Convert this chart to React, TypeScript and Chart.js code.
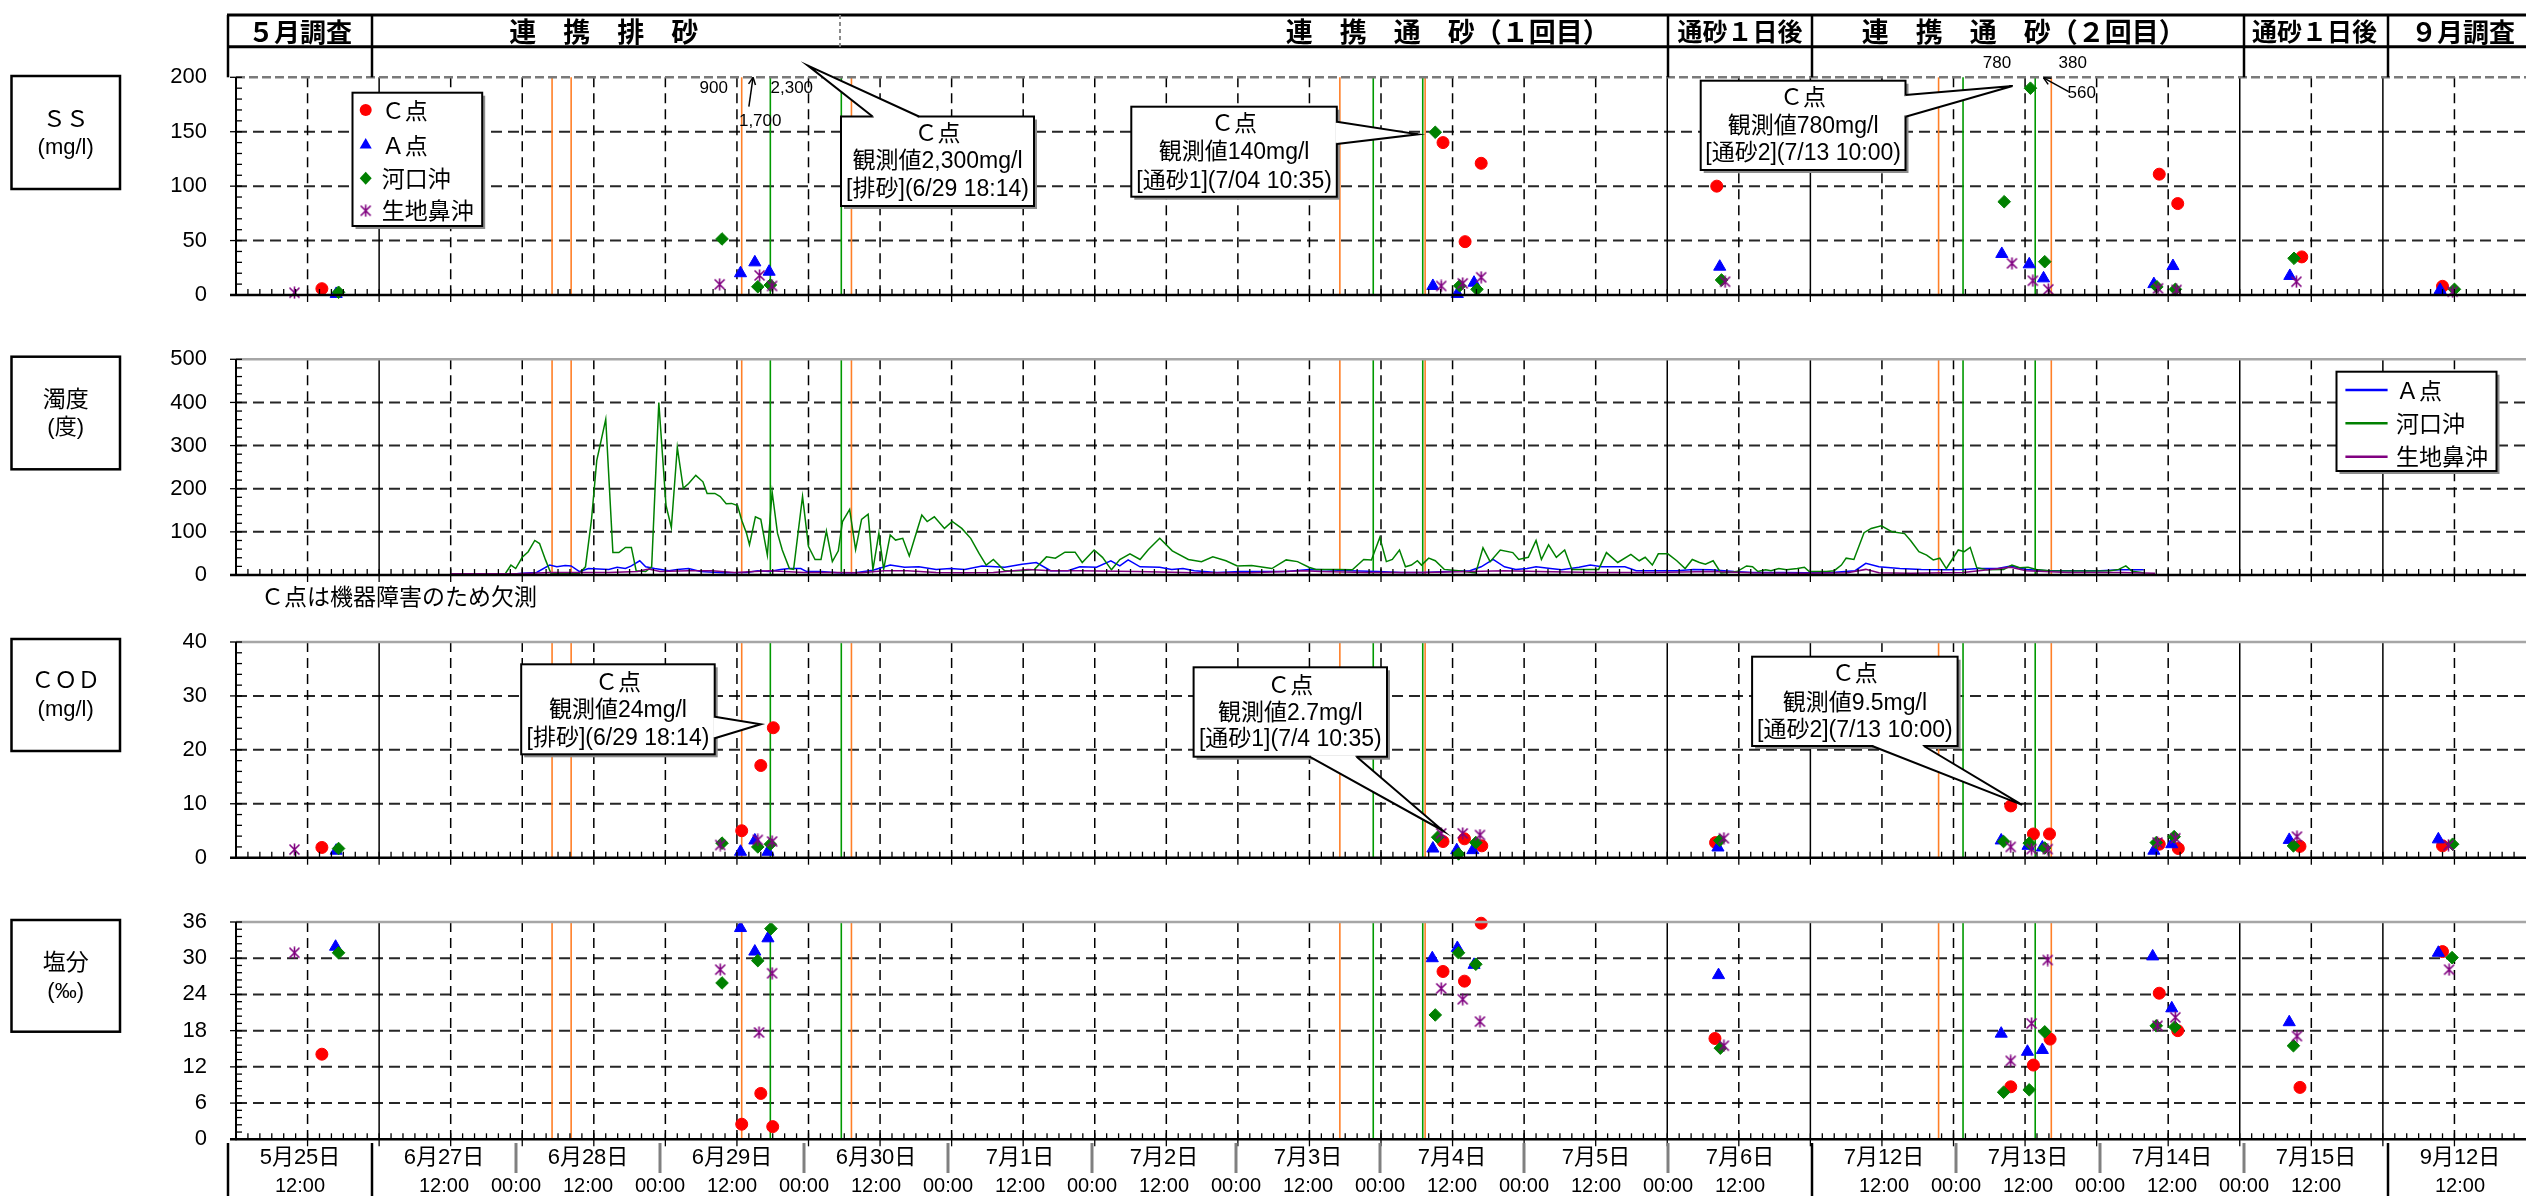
import React, { useEffect, useRef } from 'react';
import { Chart, registerables } from 'chart.js';

Chart.register(...registerables);

type Pt = [number, number];

// ---------------- categories / axis ----------------
// x values are hours on a compressed axis: each displayed day occupies 24 units
const DAY_LABELS = ['5月25日', '6月27日', '6月28日', '6月29日', '6月30日', '7月1日', '7月2日', '7月3日', '7月4日', '7月5日', '7月6日', '7月12日', '7月13日', '7月14日', '7月15日', '9月12日'];
const X_MAX = DAY_LABELS.length * 24;
const PLOT_SOLID_DAYS = [1, 10, 11, 14, 15];
const TABLE_SOLID_DAYS = [0, 1, 11, 15];
const HEADER_DIVIDERS = [1, 10, 11, 14, 15];
const HEADER_DASHED_DIVIDER = 4.25;
const HEADER_SECTIONS = [
  { label: '５月調査', at: 0.5, size: 26 },
  { label: '連　携　排　砂', at: 2.61, size: 27 },
  { label: '連　携　通　砂（１回目）', at: 8.47, size: 27 },
  { label: '通砂１日後', at: 10.5, size: 25 },
  { label: '連　携　通　砂（２回目）', at: 12.47, size: 27 },
  { label: '通砂１日後', at: 14.49, size: 25 },
  { label: '９月調査', at: 15.52, size: 26 },
];
const SERIES_NAMES = ['Ｃ点', 'Ａ点', '河口沖', '生地鼻沖'];
const LINE_NAMES = ['Ａ点', '河口沖', '生地鼻沖'];

// event lines (hours)
const EVENT_ORANGE_H = [53.0, 56.2, 84.8, 103.2, 185.1, 199.4, 285.5, 304.4];
const EVENT_GREEN_H = [89.6, 101.5, 190.7, 199.0, 289.6, 301.7];

// ---------------- SS (mg/l) ----------------
const SS_C: Pt[] = [[14.4, 5.8], [202.4, 140], [206.1, 49], [208.8, 121], [248.3, 100], [322.5, 111], [325.6, 84], [346.4, 35], [370.0, 8]];
const SS_A: Pt[] = [[16.8, 1], [84.6, 20], [87.0, 30], [89.4, 21.4], [200.7, 8.3], [204.8, 1], [207.6, 11.3], [248.8, 26], [296.1, 37.7], [300.7, 28.2], [303.1, 15.3], [321.6, 10], [324.8, 26.6], [344.4, 17.5], [369.6, 4.6]];
const SS_K: Pt[] = [[17.2, 2.5], [81.5, 51.5], [87.5, 7.6], [89.6, 9.2], [201.1, 149.5], [205.2, 8.5], [208.1, 5.2], [249.1, 13.8], [296.5, 85.7], [300.9, 190], [303.3, 30.6], [322.1, 7.6], [325.2, 5.2], [345.1, 33.7], [372.0, 5.2]];
const SS_I: Pt[] = [[9.8, 2.1], [81.1, 9.8], [87.8, 18], [89.9, 8.3], [202.1, 8.3], [205.7, 10.7], [208.8, 16.3], [249.7, 12.2], [297.8, 29.1], [301.3, 13.1], [303.9, 5.2], [322.3, 6.1], [325.4, 4.6], [345.5, 12.2], [371.7, 3]];
// off-scale C-point values printed as text (label position h / v)
const SS_OFFSCALE = [
  { text: '900', h: 80.1, v: 190 },
  { text: '1,700', h: 87.9, v: 160 },
  { text: '2,300', h: 93.2, v: 190 },
  { text: '780', h: 295.3, v: 213 },
  { text: '380', h: 308.0, v: 213 },
  { text: '560', h: 309.5, v: 185.3 },
];
const SS_ARROWS = [
  { from: [86.0, 173] as Pt, to: [86.7, 200] as Pt },
  { from: [307.3, 186.8] as Pt, to: [303.1, 199.5] as Pt },
];

// ---------------- turbidity (度) ----------------
const TURB_A: Pt[] = [[36, 3], [47, 3], [48, 4], [50.4, 6], [52.6, 23], [53.8, 19], [55.2, 22], [56.2, 21], [57.6, 8], [59.1, 15], [62.5, 13], [63.9, 18], [65.3, 15], [66.3, 21], [67.7, 33], [68.7, 19], [70.2, 15], [72.6, 10], [74, 13], [75.9, 15], [77.9, 8], [81.7, 5], [85.6, 6], [87.5, 10], [89.4, 8], [91.3, 13], [92.8, 15], [94.7, 15], [95.7, 8], [98.1, 8], [100.9, 5], [103.8, 5], [106.8, 11], [109.7, 23], [112.1, 18], [114.5, 19], [117.4, 13], [119.8, 15], [122.2, 13], [125.1, 21], [128.9, 18], [131.8, 25], [134.2, 29], [136.6, 10], [139.5, 10], [141.5, 19], [144.3, 18], [146.7, 33], [148.2, 21], [149.6, 35], [151.6, 19], [154.9, 18], [156.9, 13], [158.8, 15], [160.7, 10], [164.5, 6], [168.4, 8], [172.2, 8], [176.1, 8], [180, 13], [182.8, 12], [186.7, 10], [191.5, 8], [195.4, 6], [199.2, 6], [203.1, 8], [206.9, 10], [208.8, 19], [210.8, 36], [212.7, 19], [214.6, 13], [216.5, 15], [218, 19], [220.4, 15], [222.3, 12], [225.2, 18], [227.1, 23], [229, 19], [232.9, 19], [234.8, 10], [237.7, 10], [241.6, 10], [244.4, 13], [247.3, 12], [251.2, 8], [254.3, 6], [259.6, 6], [263.1, 5], [267.6, 6], [271.5, 10], [273.3, 27], [275.5, 19], [279, 15], [282.6, 13], [287, 12], [289.6, 13], [292.3, 15], [295.4, 15], [297.6, 21], [300.2, 13], [303.8, 10], [307.3, 10], [312.6, 10], [316.1, 12], [319.9, 12]];
const TURB_K: Pt[] = [[36, 2], [45.1, 2], [46.1, 23], [46.9, 15], [48, 41], [49, 54], [50.1, 80], [50.9, 73], [51.9, 35], [52.8, 4], [57.6, 4], [58.6, 19], [59.6, 127], [60.5, 266], [62, 361], [63.2, 52], [64.2, 52], [65.3, 64], [66.3, 64], [67.1, 10], [68.7, 8], [69.7, 19], [70.9, 400], [72.1, 162], [73, 110], [74, 296], [75, 201], [75.9, 212], [77.1, 231], [78.3, 216], [79, 189], [80.3, 189], [81.2, 182], [82.2, 165], [83.1, 166], [84.1, 161], [84.8, 127], [85.6, 97], [86.1, 70], [87.1, 135], [88, 129], [89.1, 46], [89.9, 193], [90.8, 97], [91.6, 58], [92.8, 15], [93.5, 13], [95, 182], [96, 66], [97.1, 36], [98.1, 36], [99, 102], [100, 31], [101, 56], [101.7, 124], [102.9, 152], [103.9, 59], [104.9, 129], [106, 141], [106.8, 12], [107.8, 97], [108.6, 13], [109.7, 93], [110.6, 81], [111.8, 85], [112.9, 44], [113.8, 85], [115, 139], [115.9, 124], [117.1, 135], [118.8, 108], [120.1, 124], [121.7, 108], [123.2, 85], [124.6, 50], [125.8, 23], [127, 36], [128.9, 10], [131.8, 10], [133.9, 13], [135.9, 42], [137.4, 39], [139, 53], [140.7, 53], [141.9, 29], [143.9, 58], [145.3, 41], [146.8, 12], [148.2, 36], [149.9, 49], [151.6, 36], [153, 59], [154.9, 85], [157, 56], [159.7, 36], [161.9, 31], [163.8, 42], [166, 33], [167.9, 21], [170.3, 22], [173.7, 15], [176.1, 35], [178, 31], [179.9, 18], [181.1, 13], [184.8, 13], [187.2, 12], [189.1, 36], [190.4, 35], [191.8, 87], [192.9, 31], [193.9, 36], [195.1, 58], [196.1, 19], [197.1, 23], [198.1, 33], [198.8, 23], [200, 39], [201.1, 33], [202.6, 13], [205, 10], [207.9, 5], [209.1, 63], [210.3, 31], [212, 58], [214.1, 52], [215.1, 36], [216.7, 41], [218, 80], [218.9, 36], [220.1, 70], [221.4, 41], [222.8, 58], [224, 13], [225.7, 13], [228.5, 13], [229.8, 52], [231.7, 29], [233.9, 48], [235.3, 33], [236.3, 41], [237.5, 23], [238.5, 49], [240.1, 49], [241.6, 33], [243, 15], [244.2, 36], [245.4, 29], [246.4, 25], [247.7, 33], [249, 5], [251.7, 8], [253.3, 21], [254.3, 19], [255.2, 8], [256.5, 12], [257.4, 10], [258.7, 15], [260, 12], [261.8, 15], [263, 18], [263.8, 8], [266.7, 8], [268, 10], [269.2, 23], [270, 39], [271.3, 36], [273, 98], [274.2, 108], [275.9, 114], [277.7, 100], [279.8, 96], [280.8, 80], [282.2, 54], [283.5, 46], [284.6, 35], [285.7, 39], [286.8, 15], [288.8, 58], [289.8, 54], [290.8, 64], [291.9, 17], [293.6, 12], [296.4, 13], [297.8, 23], [299.1, 17], [300.5, 18], [301.9, 13], [304, 10], [310.2, 9], [314.3, 10], [315.7, 13], [316.9, 21], [317.9, 9], [319.9, 5]];
const TURB_I: Pt[] = [[36, 3], [47.1, 3], [52.8, 6], [62.5, 6], [67.3, 8], [69.2, 14], [71.1, 8], [75.9, 10], [79.8, 10], [83.6, 6], [89.4, 10], [95.2, 6], [100.9, 6], [104.8, 5], [108.7, 10], [112.6, 10], [117.4, 6], [122.2, 5], [127, 6], [132.8, 13], [136.6, 10], [141.5, 10], [151.1, 8], [160.7, 5], [170.3, 5], [179, 10], [181.9, 8], [189.6, 6], [199.2, 6], [212.7, 10], [218.5, 8], [228.1, 6], [237.7, 6], [247.3, 8], [254.3, 5], [263.1, 4], [270.2, 5], [273.3, 13], [275.5, 5], [280.8, 4], [289.6, 6], [297.6, 18], [300.2, 10], [307.3, 6], [316.1, 6], [321.8, 4]];

// ---------------- COD (mg/l) ----------------
const COD_C: Pt[] = [[14.4, 1.9], [84.8, 5.0], [88.0, 17.1], [90.1, 24.1], [202.4, 3.0], [206.0, 3.5], [208.9, 2.2], [248.1, 2.8], [297.6, 9.6], [301.4, 4.4], [304.1, 4.4], [322.5, 2.5], [325.7, 1.7], [346.1, 2.1], [370.0, 2.2]];
const COD_A: Pt[] = [[16.8, 1.3], [84.6, 1.1], [87.0, 3.2], [89.2, 1.1], [200.7, 1.7], [204.7, 1.4], [207.4, 1.4], [248.5, 1.9], [296.0, 3.2], [300.5, 2.2], [302.9, 1.9], [321.6, 1.3], [324.6, 2.5], [344.3, 3.3], [369.3, 3.4]];
const COD_K: Pt[] = [[17.2, 1.7], [81.5, 2.7], [87.5, 2.0], [89.6, 2.5], [201.5, 3.8], [205.0, 0.7], [207.9, 2.8], [248.8, 3.2], [296.4, 3.0], [300.7, 2.7], [303.3, 1.8], [322.0, 2.8], [325.0, 3.9], [345.0, 2.2], [371.7, 2.5]];
const COD_I: Pt[] = [[9.8, 1.5], [81.2, 2.35], [87.5, 3.3], [89.9, 3.0], [202.1, 4.5], [205.7, 4.5], [208.6, 4.2], [249.5, 3.6], [297.6, 2.0], [301.1, 1.6], [303.8, 1.6], [322.2, 2.8], [325.2, 3.6], [345.6, 3.9], [371.0, 2.3]];

// ---------------- salinity (‰) ----------------
const SAL_C: Pt[] = [[14.4, 14.1], [84.8, 2.5], [88.0, 7.6], [90.0, 2.1], [202.4, 27.8], [206.0, 26.2], [208.8, 35.8], [248.0, 16.7], [297.6, 8.7], [301.4, 12.3], [304.2, 16.6], [322.5, 24.2], [325.6, 18.0], [346.1, 8.6], [370.0, 31.1]];
const SAL_A: Pt[] = [[16.7, 31.9], [84.6, 35.0], [87.0, 31.1], [89.2, 33.3], [200.6, 30.0], [204.8, 31.7], [207.6, 28.9], [248.6, 27.2], [296.0, 17.5], [300.4, 14.5], [302.9, 14.8], [321.4, 30.3], [324.6, 21.7], [344.3, 19.4], [369.3, 30.9]];
const SAL_K: Pt[] = [[17.2, 30.9], [81.5, 25.9], [87.5, 29.6], [89.7, 34.9], [201.1, 20.6], [205.0, 30.9], [207.9, 29.0], [248.9, 15.1], [296.4, 7.8], [300.7, 8.2], [303.3, 17.8], [322.0, 18.8], [325.1, 18.6], [345.0, 15.5], [371.6, 30.1]];
const SAL_I: Pt[] = [[9.8, 30.9], [81.2, 28.1], [87.7, 17.7], [89.9, 27.5], [202.1, 25.0], [205.7, 23.2], [208.6, 19.5], [249.5, 15.5], [297.6, 13.0], [301.1, 19.2], [303.8, 29.7], [322.2, 18.8], [325.2, 20.2], [345.6, 17.1], [371.1, 28.1]];

// ---------------- callouts ----------------
const SS_CALLOUTS = [
  { lines: ['Ｃ点', '観測値2,300mg/l', '[排砂](6/29 18:14)'], tip: [95.9, 210.7] as Pt },
  { lines: ['Ｃ点', '観測値140mg/l', '[通砂1](7/04 10:35)'], tip: [198.2, 147.6] as Pt },
  { lines: ['Ｃ点', '観測値780mg/l', '[通砂2](7/13 10:00)'], tip: [297.9, 192] as Pt },
];
const COD_CALLOUTS = [
  { lines: ['Ｃ点', '観測値24mg/l', '[排砂](6/29 18:14)'], tip: [88.0, 24.75] as Pt },
  { lines: ['Ｃ点', '観測値2.7mg/l', '[通砂1](7/4 10:35)'], tip: [202.4, 5.0] as Pt },
  { lines: ['Ｃ点', '観測値9.5mg/l', '[通砂2](7/13 10:00)'], tip: [299.5, 9.8] as Pt },
];

// ---------------- layout (pixels) ----------------
const W = 2526;
const TABLE_LEFT = 228;
const TABLE_DAY = 144;
const tx = (d: number) => TABLE_LEFT + TABLE_DAY * d;
const SS_BOXES = [
  { box: [841, 116.5, 1034, 206], base: [[872.6, 116.5], [918.9, 116.5]], ly: [135, 162, 190] },
  { box: [1131.3, 106.7, 1336.8, 196.7], base: [[1336.8, 121.7], [1336.8, 144]], ly: [125, 153, 182] },
  { box: [1700.7, 80.7, 1905.5, 170], base: [[1905.5, 95], [1905.5, 116.7]], ly: [98.5, 127, 154] },
];
const COD_BOXES = [
  { box: [521.2, 664.3, 714.7, 754.3], base: [[714.7, 716.7], [714.7, 738.3]], ly: [683.3, 710.7, 738.3] },
  { box: [1193.6, 667.3, 1387, 756.7], base: [[1309.5, 756.7], [1356.6, 756.7]], ly: [686.7, 713.3, 740] },
  { box: [1752.1, 656.7, 1957.6, 746], base: [[1872.1, 746], [1923.8, 746]], ly: [675, 703.3, 730.7] },
];

const FONT = '"Liberation Sans", "Noto Sans CJK JP", Arial, sans-serif';
const JFONT = '"Noto Sans CJK JP", "Liberation Sans", sans-serif';
const RED = '#FF0000';
const BLUE = '#0000FF';
const GREEN = '#008000';
const PURPLE = '#800080';
const ORANGE = '#FF7F27';
const EV_GREEN = '#009900';

// ---------------- drawing helpers ----------------
function seg(ctx: CanvasRenderingContext2D, x1: number, y1: number, x2: number, y2: number) {
  ctx.beginPath();
  ctx.moveTo(x1, y1);
  ctx.lineTo(x2, y2);
  ctx.stroke();
}
function txt(ctx: CanvasRenderingContext2D, s: string, x: number, y: number, size: number, align: CanvasTextAlign = 'center', bold = false, fam = FONT) {
  ctx.font = `${bold ? 'bold ' : ''}${size}px ${fam}`;
  ctx.textAlign = align;
  ctx.textBaseline = 'middle';
  ctx.fillStyle = '#000';
  ctx.fillText(s, x, y);
}
function panelBox(ctx: CanvasRenderingContext2D, x1: number, y1: number, x2: number, y2: number, lw = 2, shadow = true) {
  if (shadow) {
    ctx.fillStyle = '#8c8c8c';
    ctx.fillRect(x1 + 3, y1 + 3, x2 - x1, y2 - y1);
  }
  ctx.fillStyle = '#fff';
  ctx.fillRect(x1, y1, x2 - x1, y2 - y1);
  ctx.setLineDash([]);
  ctx.strokeStyle = '#000';
  ctx.lineWidth = lw;
  ctx.strokeRect(x1, y1, x2 - x1, y2 - y1);
}
function drawMarker(ctx: CanvasRenderingContext2D, kind: number, x: number, y: number, star: HTMLCanvasElement) {
  ctx.beginPath();
  if (kind === 0) {
    ctx.fillStyle = RED;
    ctx.arc(x, y, 6, 0, Math.PI * 2);
    ctx.fill();
  } else if (kind === 1) {
    ctx.fillStyle = BLUE;
    ctx.moveTo(x, y - 7);
    ctx.lineTo(x + 6.06, y + 3.5);
    ctx.lineTo(x - 6.06, y + 3.5);
    ctx.closePath();
    ctx.fill();
  } else if (kind === 2) {
    ctx.fillStyle = GREEN;
    ctx.moveTo(x, y - 6.5);
    ctx.lineTo(x + 6, y);
    ctx.lineTo(x, y + 6.5);
    ctx.lineTo(x - 6, y);
    ctx.closePath();
    ctx.fill();
  } else {
    ctx.drawImage(star, x - star.width / 2, y - star.height / 2);
  }
}
function drawCallout(ctx: CanvasRenderingContext2D, b: any, lines: string[], tip: [number, number]) {
  const [x1, y1, x2, y2] = b.box;
  panelBox(ctx, x1, y1, x2, y2, 2, true);
  const [p1, p2] = b.base;
  ctx.beginPath();
  ctx.moveTo(p1[0], p1[1]);
  ctx.lineTo(tip[0], tip[1]);
  ctx.lineTo(p2[0], p2[1]);
  ctx.closePath();
  ctx.fillStyle = '#fff';
  ctx.fill();
  ctx.strokeStyle = '#fff';
  ctx.lineWidth = 3;
  const dx = p2[0] - p1[0], dy = p2[1] - p1[1];
  const len = Math.hypot(dx, dy);
  seg(ctx, p1[0] + dx / len * 1.2, p1[1] + dy / len * 1.2, p2[0] - dx / len * 1.2, p2[1] - dy / len * 1.2);
  ctx.strokeStyle = '#000';
  ctx.lineWidth = 2;
  ctx.beginPath();
  ctx.moveTo(p1[0], p1[1]);
  ctx.lineTo(tip[0], tip[1]);
  ctx.lineTo(p2[0], p2[1]);
  ctx.stroke();
  const cx = (x1 + x2) / 2;
  lines.forEach((s, i) => txt(ctx, s, cx, b.ly[i], 23));
}
function drawArrow(ctx: CanvasRenderingContext2D, a: [number, number], b: [number, number]) {
  ctx.strokeStyle = '#000';
  ctx.lineWidth = 1.5;
  ctx.setLineDash([]);
  seg(ctx, a[0], a[1], b[0], b[1]);
  const ang = Math.atan2(b[1] - a[1], b[0] - a[0]);
  const L = 8;
  seg(ctx, b[0], b[1], b[0] - L * Math.cos(ang - 0.45), b[1] - L * Math.sin(ang - 0.45));
  seg(ctx, b[0], b[1], b[0] - L * Math.cos(ang + 0.45), b[1] - L * Math.sin(ang + 0.45));
}
function labelBox(ctx: CanvasRenderingContext2D, y1: number, y2: number, l1: string, yl1: number, l2: string, yl2: number) {
  ctx.setLineDash([]);
  ctx.strokeStyle = '#000';
  ctx.lineWidth = 2.5;
  ctx.strokeRect(11.5, y1, 108.5, y2 - y1);
  txt(ctx, l1, 65.7, yl1, 23, 'center', false, JFONT);
  txt(ctx, l2, 65.7, yl2, 22);
}

function makeStar(): HTMLCanvasElement {
  const c = document.createElement('canvas');
  c.width = 13;
  c.height = 13;
  const g = c.getContext('2d')!;
  g.strokeStyle = PURPLE;
  g.lineWidth = 1.6;
  g.beginPath();
  g.moveTo(1.5, 1.5); g.lineTo(11.5, 11.5);
  g.moveTo(11.5, 1.5); g.lineTo(1.5, 11.5);
  g.moveTo(6.5, 0.5); g.lineTo(6.5, 12.5);
  g.stroke();
  return c;
}

// ---------------- panels ----------------
interface Panel {
  top: number; height: number; plotTop: number; plotBottom: number;
  yMax: number; yStep: number; topDashed?: boolean;
  datasets: any[];
  decor: (ctx: CanvasRenderingContext2D, P: (h: number, v: number) => [number, number], star: HTMLCanvasElement) => void;
}

const pts = (a: Pt[]) => a.map(([x, y]) => ({ x, y }));
function markerSets(c: Pt[], a: Pt[], k: Pt[], i: Pt[], star: HTMLCanvasElement) {
  const base = { showLine: false, clip: false, pointBorderWidth: 1 };
  return [
    { ...base, label: SERIES_NAMES[0], data: pts(c), pointStyle: 'circle', pointRadius: 6, pointBackgroundColor: RED, pointBorderColor: RED, order: 3 },
    { ...base, label: SERIES_NAMES[1], data: pts(a), pointStyle: 'triangle', pointRadius: 7, pointBackgroundColor: BLUE, pointBorderColor: BLUE, order: 2 },
    { ...base, label: SERIES_NAMES[2], data: pts(k), pointStyle: 'rectRot', pointRadius: 6.3, pointBackgroundColor: GREEN, pointBorderColor: GREEN, order: 1 },
    { ...base, label: SERIES_NAMES[3], data: pts(i), pointStyle: star, pointRadius: 6, pointBackgroundColor: PURPLE, pointBorderColor: PURPLE, order: 0 },
  ];
}

function drawHeader(ctx: CanvasRenderingContext2D) {
  const y0 = 15, y1 = 46.7, y2 = 77.3;
  ctx.setLineDash([]);
  ctx.strokeStyle = '#000';
  ctx.lineWidth = 3;
  seg(ctx, TABLE_LEFT - 1, y0, W, y0);
  seg(ctx, TABLE_LEFT - 1, y1, W, y1);
  ctx.lineWidth = 2.5;
  seg(ctx, TABLE_LEFT, y0, TABLE_LEFT, y2);
  HEADER_DIVIDERS.forEach((d) => seg(ctx, tx(d), y0, tx(d), y2));
  ctx.strokeStyle = '#8a8a8a';
  ctx.lineWidth = 2;
  ctx.setLineDash([4, 3]);
  seg(ctx, tx(HEADER_DASHED_DIVIDER), y0, tx(HEADER_DASHED_DIVIDER), y1);
  ctx.setLineDash([]);
  HEADER_SECTIONS.forEach((s) => txt(ctx, s.label, tx(s.at), (y0 + y1) / 2 + 1, s.size, 'center', true, JFONT));
}

function buildPanels(): Panel[] {
  return [
    {
      top: 0, height: 320, plotTop: 77.3, plotBottom: 295, yMax: 200, yStep: 50, topDashed: true,
      datasets: [],
      decor: (ctx, P, star) => {
        drawHeader(ctx);
        labelBox(ctx, 76, 189, 'ＳＳ', 118, '(mg/l)', 148);
        panelBox(ctx, 352.5, 92.7, 482.2, 226, 2, true);
        [110, 145, 178.3, 210.7].forEach((y, i) => {
          drawMarker(ctx, i, 365.7, y, star);
          txt(ctx, SERIES_NAMES[i], 381.7, y, 23, 'left', false, JFONT);
        });
        SS_OFFSCALE.forEach((o) => {
          const [x, y] = P(o.h, o.v);
          txt(ctx, o.text, x, y, 17);
        });
        SS_ARROWS.forEach((a) => drawArrow(ctx, P(a.from[0], a.from[1]), P(a.to[0], a.to[1])));
        SS_CALLOUTS.forEach((c, i) => drawCallout(ctx, SS_BOXES[i], c.lines, P(c.tip[0], c.tip[1])));
      },
    },
    {
      top: 320, height: 300, plotTop: 359.3, plotBottom: 575, yMax: 500, yStep: 100,
      datasets: [
        { label: LINE_NAMES[0], data: pts(TURB_A), showLine: true, borderColor: BLUE, borderWidth: 1.5, pointRadius: 0, order: 2 },
        { label: LINE_NAMES[1], data: pts(TURB_K), showLine: true, borderColor: GREEN, borderWidth: 1.5, pointRadius: 0, order: 1 },
        { label: LINE_NAMES[2], data: pts(TURB_I), showLine: true, borderColor: PURPLE, borderWidth: 1.5, pointRadius: 0, order: 0 },
      ],
      decor: (ctx) => {
        labelBox(ctx, 356.7, 469.3, '濁度', 398, '(度)', 428);
        panelBox(ctx, 2336.5, 371.7, 2496.5, 471, 2, true);
        [BLUE, GREEN, PURPLE].forEach((col, i) => {
          const y = [390, 423.3, 456.7][i];
          ctx.strokeStyle = col;
          ctx.lineWidth = 2.5;
          seg(ctx, 2345.4, y, 2387.6, y);
          txt(ctx, LINE_NAMES[i], 2396, y, 23, 'left', false, JFONT);
        });
        txt(ctx, 'Ｃ点は機器障害のため欠測', 261, 596.7, 23, 'left', false, JFONT);
      },
    },
    {
      top: 620, height: 260, plotTop: 642, plotBottom: 857.7, yMax: 40, yStep: 10,
      datasets: [],
      decor: (ctx, P) => {
        labelBox(ctx, 639, 751, 'ＣＯＤ', 679, '(mg/l)', 710);
        COD_CALLOUTS.forEach((c, i) => drawCallout(ctx, COD_BOXES[i], c.lines, P(c.tip[0], c.tip[1])));
      },
    },
    {
      top: 880, height: 316, plotTop: 922, plotBottom: 1139.3, yMax: 36, yStep: 6,
      datasets: [],
      decor: (ctx) => {
        labelBox(ctx, 920, 1031.7, '塩分', 961, '(‰)', 991.7);
        const yTop = 1143, yMid = 1173, yBot = 1196;
        for (let d = 0; d < DAY_LABELS.length; d++) {
          const solid = TABLE_SOLID_DAYS.includes(d);
          ctx.setLineDash([]);
          if (solid) {
            ctx.strokeStyle = '#000';
            ctx.lineWidth = 2.5;
            seg(ctx, tx(d), yTop, tx(d), yBot);
          } else {
            ctx.strokeStyle = '#808080';
            ctx.lineWidth = 3;
            seg(ctx, tx(d), yTop, tx(d), yMid);
            txt(ctx, '00:00', tx(d), 1186, 20);
          }
          txt(ctx, DAY_LABELS[d], tx(d + 0.5), 1158, 22);
          txt(ctx, '12:00', tx(d + 0.5), 1186, 20);
        }
      },
    },
  ];
}

function drawGrid(chart: any, p: Panel) {
  const { ctx, chartArea: a } = chart;
  const xs = chart.scales.x, ys = chart.scales.y;
  ctx.save();
  ctx.strokeStyle = '#262626';
  ctx.lineWidth = 2;
  ctx.setLineDash([11, 6]);
  for (let v = p.yStep; v < p.yMax - 1e-9; v += p.yStep) {
    const y = ys.getPixelForValue(v);
    seg(ctx, a.left, y, a.right, y);
  }
  for (let h = 12; h < X_MAX; h += 12) {
    const x = xs.getPixelForValue(h);
    const isSolid = h % 24 === 0 && PLOT_SOLID_DAYS.includes(h / 24);
    ctx.strokeStyle = '#000';
    ctx.lineWidth = 1.5;
    ctx.setLineDash(isSolid ? [] : [10, 6]);
    seg(ctx, x, a.top, x, a.bottom);
  }
  ctx.setLineDash([]);
  ctx.lineWidth = 1.6;
  ctx.strokeStyle = ORANGE;
  EVENT_ORANGE_H.forEach((h) => { const x = xs.getPixelForValue(h); seg(ctx, x, a.top, x, a.bottom); });
  ctx.strokeStyle = EV_GREEN;
  EVENT_GREEN_H.forEach((h) => { const x = xs.getPixelForValue(h); seg(ctx, x, a.top, x, a.bottom); });
  ctx.restore();
}

function drawAxes(chart: any, p: Panel) {
  const { ctx, chartArea: a } = chart;
  const xs = chart.scales.x, ys = chart.scales.y;
  ctx.save();
  ctx.strokeStyle = p.topDashed ? '#7a7a7a' : '#a6a6a6';
  ctx.lineWidth = 2.5;
  ctx.setLineDash(p.topDashed ? [9, 4] : []);
  seg(ctx, a.left, a.top, a.right, a.top);
  ctx.setLineDash([]);
  ctx.strokeStyle = '#000';
  ctx.lineWidth = 2;
  seg(ctx, a.left, a.top, a.left, a.bottom + 1);
  const minor = p.yStep / 5;
  ctx.lineWidth = 1.3;
  for (let i = 0; i * minor <= p.yMax + 1e-9; i++) {
    const y = ys.getPixelForValue(i * minor);
    const major = i % 5 === 0;
    seg(ctx, a.left - (major ? 6 : 0), y, a.left + 6, y);
  }
  for (let h = 2; h < X_MAX; h += 2) {
    const x = xs.getPixelForValue(h);
    const major = h % 12 === 0;
    seg(ctx, x, a.bottom - 6, x, a.bottom + (major ? 7 : 0));
  }
  ctx.lineWidth = 2.5;
  seg(ctx, a.left - 6, a.bottom, a.right, a.bottom);
  ctx.restore();
}

function makeChart(canvas: HTMLCanvasElement, p: Panel, star: HTMLCanvasElement) {
  const plugin = {
    id: 'panelDecor',
    beforeDatasetsDraw(chart: any) { drawGrid(chart, p); },
    afterDatasetsDraw(chart: any) { drawAxes(chart, p); },
    afterDraw(chart: any) {
      const ctx = chart.ctx;
      const xs = chart.scales.x, ys = chart.scales.y;
      const P = (h: number, v: number): [number, number] => [xs.getPixelForValue(h), ys.getPixelForValue(v) + p.top];
      ctx.save();
      ctx.translate(0, -p.top);
      p.decor(ctx, P, star);
      ctx.restore();
    },
  };
  return new Chart(canvas, {
    type: 'scatter',
    data: { datasets: p.datasets },
    options: {
      animation: false,
      responsive: false,
      maintainAspectRatio: false,
      devicePixelRatio: 1,
      events: [],
      layout: { autoPadding: false, padding: { top: p.plotTop - p.top, bottom: p.top + p.height - p.plotBottom, left: 0, right: 0 } },
      plugins: { legend: { display: false }, tooltip: { enabled: false } },
      scales: {
        x: { type: 'linear', min: 0, max: X_MAX, display: false },
        y: {
          type: 'linear', min: 0, max: p.yMax,
          grid: { display: false },
          border: { display: false },
          ticks: { stepSize: p.yStep, padding: 21, color: '#000', font: { family: FONT, size: 22 } },
          afterFit: (s: any) => { s.width = 236; s.paddingTop = 0; s.paddingBottom = 0; },
        },
      },
    } as any,
    plugins: [plugin],
  } as any);
}

const PANEL_GEOM = [
  { top: 0, height: 320 },
  { top: 320, height: 300 },
  { top: 620, height: 260 },
  { top: 880, height: 316 },
];

export default function App() {
  const r0 = useRef<HTMLCanvasElement>(null);
  const r1 = useRef<HTMLCanvasElement>(null);
  const r2 = useRef<HTMLCanvasElement>(null);
  const r3 = useRef<HTMLCanvasElement>(null);
  const refs = [r0, r1, r2, r3];
  useEffect(() => {
    const star = makeStar();
    const panels = buildPanels();
    panels[0].datasets = markerSets(SS_C, SS_A, SS_K, SS_I, star);
    panels[2].datasets = markerSets(COD_C, COD_A, COD_K, COD_I, star);
    panels[3].datasets = markerSets(SAL_C, SAL_A, SAL_K, SAL_I, star);
    const charts = panels.map((p, i) => makeChart(refs[i].current as HTMLCanvasElement, p, star));
    return () => charts.forEach((c) => c.destroy());
  }, []);
  return (
    <div style={{ position: 'absolute', left: 0, top: 0, width: W, height: 1196, background: '#fff', overflow: 'hidden' }}>
      {PANEL_GEOM.map((g, i) => (
        <canvas key={i} ref={refs[i]} width={W} height={g.height}
          style={{ position: 'absolute', left: 0, top: g.top, width: W, height: g.height }} />
      ))}
    </div>
  );
}
